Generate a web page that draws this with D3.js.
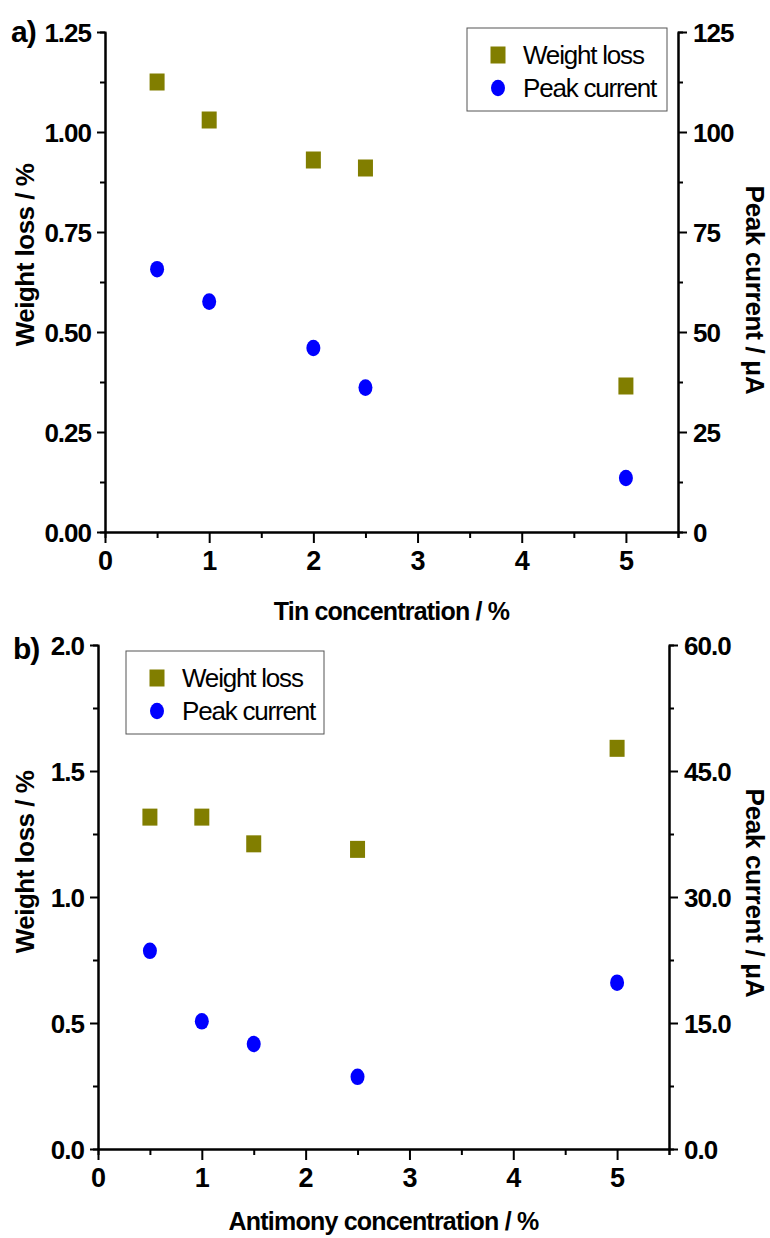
<!DOCTYPE html>
<html><head><meta charset="utf-8">
<script src="https://cdn.jsdelivr.net/npm/d3@7/dist/d3.min.js"></script>
<style>
body{margin:0;background:#fff;}
svg{display:block;font-family:"Liberation Sans",Arial,sans-serif;}
.tick text{font-weight:bold;fill:#000;}
</style></head><body>
<svg id="c" width="770" height="1238"></svg>
<script>
// ---- data ----
const tinConc = [0.5, 1, 2, 2.5, 5];
const tinWeightLoss = [1.125, 1.03, 0.93, 0.91, 0.365];
const tinPeakCurrent = [65.7, 57.6, 46.0, 36.1, 13.5];

const sbConc = [0.5, 1, 1.5, 2.5, 5];
const sbWeightLoss = [1.317, 1.317, 1.211, 1.189, 1.59];
const sbPeakCurrent = [23.6, 15.2, 12.5, 8.6, 19.8];

const xMajorTicks = [0, 1, 2, 3, 4, 5];
const xMinorTicks = [0.5, 1.5, 2.5, 3.5, 4.5, 5.5];
const aLeftTicks = [0, 0.25, 0.5, 0.75, 1.0, 1.25];
const aRightTicks = [0, 25, 50, 75, 100, 125];
const bLeftTicks = [0, 0.5, 1.0, 1.5, 2.0];
const bRightTicks = [0, 15, 30, 45, 60];

const seriesNames = ["Weight loss", "Peak current"];
const colors = {square: "#817e00", circle: "#0000ff"};

const svg = d3.select("#c");

function panel(o) {
  const g = svg.append("g");
  const x = d3.scaleLinear().domain([0, 5.5]).range([o.left, o.right]);
  const yL = d3.scaleLinear().domain(o.yLDomain).range([o.bottom, o.top]);
  const yR = d3.scaleLinear().domain(o.yRDomain).range([o.bottom, o.top]);

  const minorOf = (ticks) => ticks.slice(0, -1).map((t, i) => (t + ticks[i + 1]) / 2);

  // minor ticks
  g.append("g").attr("transform", `translate(0,${o.bottom})`)
    .call(d3.axisBottom(x).tickValues(xMinorTicks).tickSize(6).tickFormat(""));
  g.append("g").attr("transform", `translate(${o.left},0)`)
    .call(d3.axisLeft(yL).tickValues(minorOf(o.yLTicks)).tickSize(5).tickFormat(""));
  g.append("g").attr("transform", `translate(${o.right},0)`)
    .call(d3.axisRight(yR).tickValues(minorOf(o.yRTicks)).tickSize(5).tickFormat(""));

  // major ticks
  const xa = g.append("g").attr("transform", `translate(0,${o.bottom})`)
    .call(d3.axisBottom(x).tickValues(xMajorTicks).tickSize(11).tickSizeOuter(0).tickPadding(8).tickFormat(d3.format("d")));
  xa.selectAll("text").style("font-size", "27px");
  const la = g.append("g").attr("transform", `translate(${o.left},0)`)
    .call(d3.axisLeft(yL).tickValues(o.yLTicks).tickSize(8).tickSizeOuter(0).tickPadding(6).tickFormat(d3.format(o.yLFmt)));
  la.selectAll("text").style("font-size", "26px").attr("letter-spacing", "-1px").attr("dy", "0.36em");
  const ra = g.append("g").attr("transform", `translate(${o.right},0)`)
    .call(d3.axisRight(yR).tickValues(o.yRTicks).tickSize(9).tickSizeOuter(0).tickPadding(6).tickFormat(d3.format(o.yRFmt)));
  ra.selectAll("text").style("font-size", "26px").attr("letter-spacing", "-1px").attr("dy", "0.36em");

  g.selectAll(".domain").attr("stroke", "#000").attr("stroke-width", 2);
  g.selectAll(".tick line").attr("stroke", "#000").attr("stroke-width", 2);

  // points
  const data = o.conc.map((c, i) => ({c, w: o.wl[i], p: o.pc[i]}));
  g.selectAll("rect.wl").data(data).join("rect").attr("class", "wl")
    .attr("x", d => x(d.c) - 7.5).attr("y", d => yL(d.w) - 8.5)
    .attr("width", 15).attr("height", 17).attr("fill", colors.square);
  g.selectAll("ellipse.pc").data(data).join("ellipse").attr("class", "pc")
    .attr("cx", d => x(d.c)).attr("cy", d => yR(d.p))
    .attr("rx", 7).attr("ry", 8.3).attr("fill", colors.circle);

  // titles
  g.append("text").attr("x", (o.left + o.right) / 2).attr("y", o.xTitleY)
    .attr("text-anchor", "middle").attr("font-weight", "bold").attr("font-size", 25)
    .attr("letter-spacing", "-0.8px").text(o.xTitle);
  g.append("text").attr("transform", `translate(34,${o.lTitleY}) rotate(-90)`)
    .attr("text-anchor", "middle").attr("font-weight", "bold").attr("font-size", 26)
    .attr("letter-spacing", "-0.5px").text("Weight loss / %");
  g.append("text").attr("transform", `translate(746,${o.rTitleY}) rotate(90)`)
    .attr("text-anchor", "middle").attr("font-weight", "bold").attr("font-size", 26)
    .attr("letter-spacing", "-0.3px").text("Peak current / \u03bcA");
  g.append("text").attr("x", o.labelX).attr("y", o.labelY)
    .attr("font-weight", "bold").attr("font-size", 30).attr("letter-spacing", "-1px").text(o.label);

  // legend
  const L = o.legend;
  const lg = g.append("g");
  lg.append("rect").attr("x", L.x).attr("y", L.y).attr("width", L.w).attr("height", L.h)
    .attr("fill", "#fff").attr("stroke", "#555").attr("stroke-width", 1);
  lg.append("rect").attr("x", L.x + 31 - 7.5).attr("y", L.y + 27 - 8.5).attr("width", 15).attr("height", 17)
    .attr("fill", colors.square);
  lg.append("ellipse").attr("cx", L.x + 31).attr("cy", L.y + 60).attr("rx", 7).attr("ry", 8.3)
    .attr("fill", colors.circle);
  seriesNames.forEach((n, i) => {
    lg.append("text").attr("x", L.x + 56).attr("y", L.y + 36 + i * 33)
      .attr("font-size", 26).attr("letter-spacing", "-1.2px").text(n);
  });
}

panel({
  left: 105, right: 678, top: 32, bottom: 532,
  yLDomain: [0, 1.25], yRDomain: [0, 125],
  yLTicks: aLeftTicks, yRTicks: aRightTicks, yLFmt: ".2f", yRFmt: "d",
  conc: tinConc, wl: tinWeightLoss, pc: tinPeakCurrent,
  xTitle: "Tin concentration / %", xTitleY: 620,
  lTitleY: 255, rTitleY: 290,
  label: "a)", labelX: 11, labelY: 42,
  legend: {x: 467, y: 28, w: 200, h: 83}
});
panel({
  left: 98, right: 669, top: 645, bottom: 1149,
  yLDomain: [0, 2], yRDomain: [0, 60],
  yLTicks: bLeftTicks, yRTicks: bRightTicks, yLFmt: ".1f", yRFmt: ".1f",
  conc: sbConc, wl: sbWeightLoss, pc: sbPeakCurrent,
  xTitle: "Antimony concentration / %", xTitleY: 1230,
  lTitleY: 862, rTitleY: 893,
  label: "b)", labelX: 13, labelY: 659,
  legend: {x: 126, y: 651, w: 198, h: 83}
});
</script></body></html>
